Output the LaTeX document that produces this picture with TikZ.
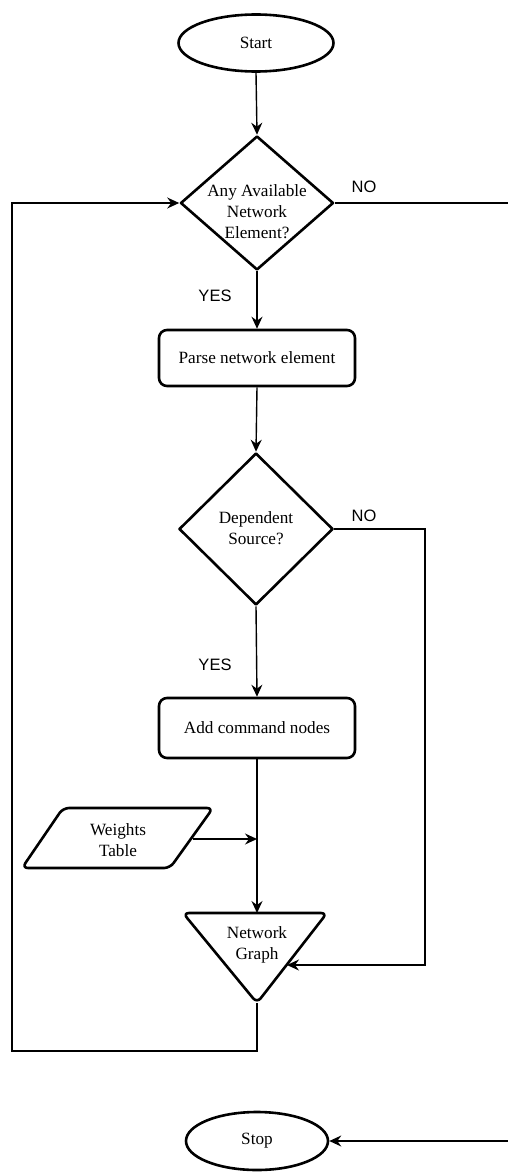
\documentclass[tikz,border=0pt]{standalone}
\usepackage{fontspec}
\setmainfont{Liberation Serif}
\newfontfamily\labelfont{Liberation Sans}
\usetikzlibrary{shapes.geometric,arrows.meta,calc}

\begin{document}
\begin{tikzpicture}[x=1pt,y=-1pt,
  shapeline/.style={line width=2.6pt, line join=round},
  conn/.style={line width=1.4pt, -{Stealth[length=12pt,width=11pt,inset=4pt]}},
  txt/.style={font=\fontsize{17.2}{21}\selectfont, align=center, inner sep=0pt},
  lbl/.style={font=\labelfont\fontsize{16.5}{19}\selectfont, inner sep=0pt}]
\useasboundingbox (0,0) rectangle (508,1172);

% terminals
\node[ellipse, draw, shapeline, minimum width=155pt, minimum height=57pt, txt] (start) at (256,43) {Start};
\node[ellipse, draw, shapeline, minimum width=142pt, minimum height=58pt, txt] (stop) at (257,1141) {Stop};

% decision 1
\node[diamond, draw, shapeline, minimum width=153pt, minimum height=134pt, inner sep=0pt] (d1) at (257,203) {};
\node[txt] (d1t) at (257,212) {Any Available\\Network\\Element?};

% process boxes
\node[draw, shapeline, rounded corners=8pt, minimum width=196pt, minimum height=56pt, txt] (parse) at (257,358) {Parse network element};

% decision 2
\node[diamond, draw, shapeline, minimum width=154pt, minimum height=152pt, inner sep=0pt] (d2) at (256,529) {};
\node[txt] (d2t) at (256,528) {Dependent\\Source?};

\node[draw, shapeline, rounded corners=8pt, minimum width=196pt, minimum height=60pt, txt] (addcmd) at (257,728) {Add command nodes};

% weights table (parallelogram)
\draw[shapeline, rounded corners=6pt] (63,808) -- (213,808) -- (170,868) -- (22,868) -- cycle;
\node[txt] (wt) at (118,840) {Weights\\Table};
\coordinate (wout) at (193,839);
\coordinate (wjoin) at (257,839);

% network graph (triangle)
\draw[shapeline, rounded corners=6pt] (183,913) -- (327,913) -- (257,1003) -- cycle;
\node[txt] (ngt) at (257,945) {Network\\Graph};
\coordinate (ngtop) at (257,913);
\coordinate (ngbot) at (257,1003);
\coordinate (ngin) at (287,965);

% helper bend points
\coordinate (loopcorner) at (12,1051);
\coordinate (farright) at (511,600);
\coordinate (noright) at (425,700);

% connectors
\draw[conn] (start.south) -- (d1.north);
\draw[conn] (d1.south) -- (parse.north);
\draw[conn] (parse.south) -- (d2.north);
\draw[conn] (d2.south) -- (addcmd.north);
\draw[conn] (addcmd.south) -- (ngtop);
\draw[conn] (wout) -- (wjoin);
\draw[conn] (d2.east) -| (noright) |- (ngin);
\draw[conn] (ngbot) |- (loopcorner) |- (d1.west);
\draw[conn] (d1.east) -| (farright) |- (stop.east);

% labels
\node[lbl] (no1) at (364,187) {NO};
\node[lbl] (yes1) at (215,296) {YES};
\node[lbl] (no2) at (364,516) {NO};
\node[lbl] (yes2) at (215,665) {YES};
\end{tikzpicture}
\end{document}
